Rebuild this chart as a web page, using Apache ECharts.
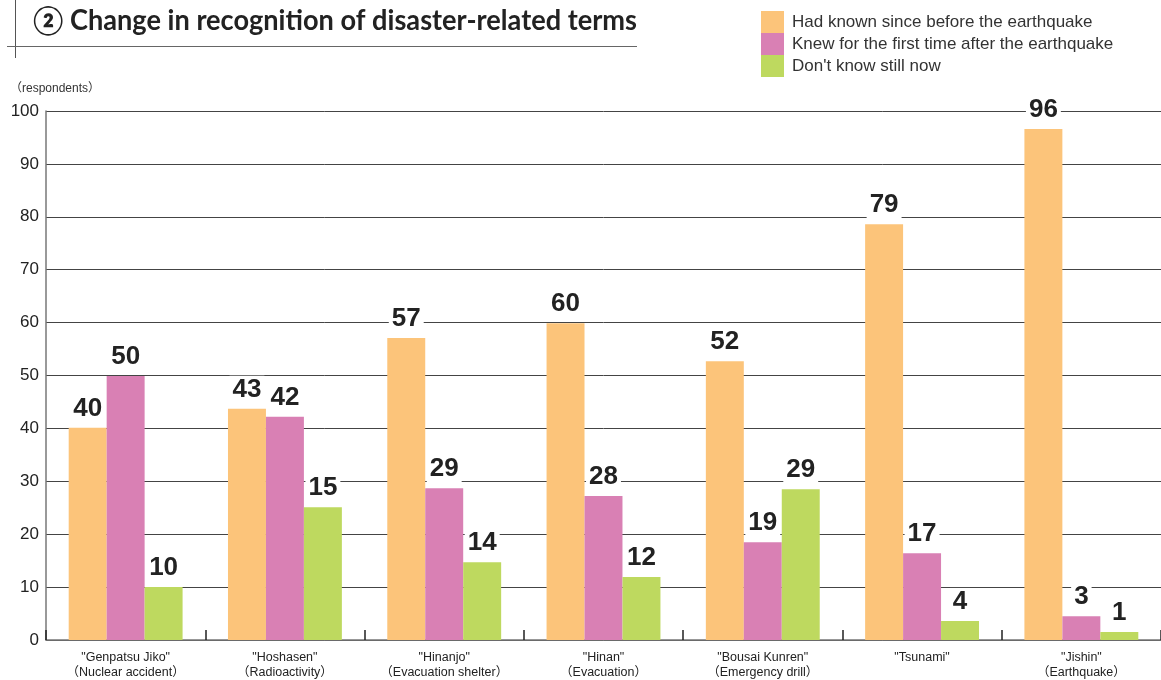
<!DOCTYPE html>
<html>
<head>
<meta charset="utf-8">
<script src="https://cdn.jsdelivr.net/npm/echarts@6/dist/echarts.min.js"></script>
<style>
html,body{margin:0;padding:0;background:#fff;}
#chart{width:1161px;height:680px;}
</style>
</head>
<body>
<div id="chart"></div>
<script>
const categories = [
  '"Genpatsu Jiko"\n（Nuclear accident）',
  '"Hoshasen"\n（Radioactivity）',
  '"Hinanjo"\n（Evacuation shelter）',
  '"Hinan"\n（Evacuation）',
  '"Bousai Kunren"\n（Emergency drill）',
  '"Tsunami"',
  '"Jishin"\n（Earthquake）'
];
const seriesNames = [
  'Had known since before the earthquake',
  'Knew for the first time after the earthquake',
  "Don't know still now"
];
// bar heights as drawn in the picture
const hadKnown = [40.1, 43.7, 57.1, 59.9, 52.7, 78.6, 96.6];
const firstTime = [49.9, 42.2, 28.7, 27.2, 18.5, 16.4, 4.5];
const stillNot = [10, 25.1, 14.7, 11.9, 28.5, 3.6, 1.5];
// printed value labels
const hadKnownLabels = [40, 43, 57, 60, 52, 79, 96];
const firstTimeLabels = [50, 42, 29, 28, 19, 17, 3];
const stillNotLabels = [10, 15, 14, 12, 29, 4, 1];
const yTicks = [0, 10, 20, 30, 40, 50, 60, 70, 80, 90, 100];

const colors = ['#FCC47A', '#D980B4', '#BED95F'];
const FONT = '"Liberation Sans", Arial, "Noto Sans CJK JP", sans-serif';

function mkSeries(name, values, labels, color) {
  return {
    name: name,
    type: 'bar',
    barGap: '0%',
    barCategoryGap: '28.5%',
    itemStyle: { color: color },
    data: values,
    label: {
      show: true,
      position: 'top',
      distance: 6,
      formatter: p => String(labels[p.dataIndex]),
      fontFamily: FONT,
      fontWeight: 'bold',
      fontSize: 26,
      color: '#222',
      backgroundColor: '#fff',
      padding: [1, 3, 0, 3],
      lineHeight: 26
    },
    z: 3
  };
}

const chart = echarts.init(document.getElementById('chart'), null, { renderer: 'canvas' });
chart.setOption({
  animation: false,
  backgroundColor: '#fff',
  textStyle: { fontFamily: FONT },
  grid: { left: 46, right: -1, top: 111, bottom: 40, containLabel: false },
  legend: {
    orient: 'vertical',
    left: 761,
    top: 11,
    padding: 0,
    itemWidth: 23,
    itemHeight: 22,
    itemGap: 0,
    icon: 'rect',
    selectedMode: false,
    textStyle: { fontFamily: FONT, fontSize: 17, color: '#333', padding: [0, 0, 0, 3] },
    data: seriesNames
  },
  xAxis: {
    type: 'category',
    data: categories,
    boundaryGap: true,
    axisLine: { show: true, lineStyle: { color: '#777', width: 1.5 } },
    axisTick: { show: true, inside: true, length: 10, lineStyle: { color: '#222', width: 1.5 } },
    axisLabel: { fontFamily: FONT, fontSize: 12.5, color: '#222', lineHeight: 15, margin: 10, interval: 0 }
  },
  yAxis: {
    type: 'value',
    min: 0,
    max: 100,
    interval: 10,
    axisLine: { show: true, lineStyle: { color: '#777', width: 1.5 } },
    axisTick: { show: false },
    axisLabel: {
      fontFamily: FONT, fontSize: 17, color: '#222', margin: 7,
      formatter: v => yTicks.includes(v) ? String(v) : ''
    },
    splitLine: { show: true, lineStyle: { color: '#444', width: 1 } }
  },
  graphic: [
    { type: 'line', shape: { x1: 15.5, y1: 0, x2: 15.5, y2: 58 }, style: { stroke: '#555', lineWidth: 1 } },
    { type: 'line', shape: { x1: 7, y1: 46.5, x2: 637, y2: 46.5 }, style: { stroke: '#666', lineWidth: 1.2 } },
    { type: 'text', x: 33, y: 7, scaleX: 0.97, style: { text: '② Change in recognition of disaster-related terms', font: 'bold 28px Lato, "Open Sans", sans-serif', fill: '#222' } },
    { type: 'text', left: 10, top: 83, style: { text: '（respondents）', font: '12px ' + FONT, fill: '#333' } }
  ],
  series: [
    mkSeries(seriesNames[0], hadKnown, hadKnownLabels, colors[0]),
    mkSeries(seriesNames[1], firstTime, firstTimeLabels, colors[1]),
    mkSeries(seriesNames[2], stillNot, stillNotLabels, colors[2])
  ]
});
</script>
</body>
</html>
